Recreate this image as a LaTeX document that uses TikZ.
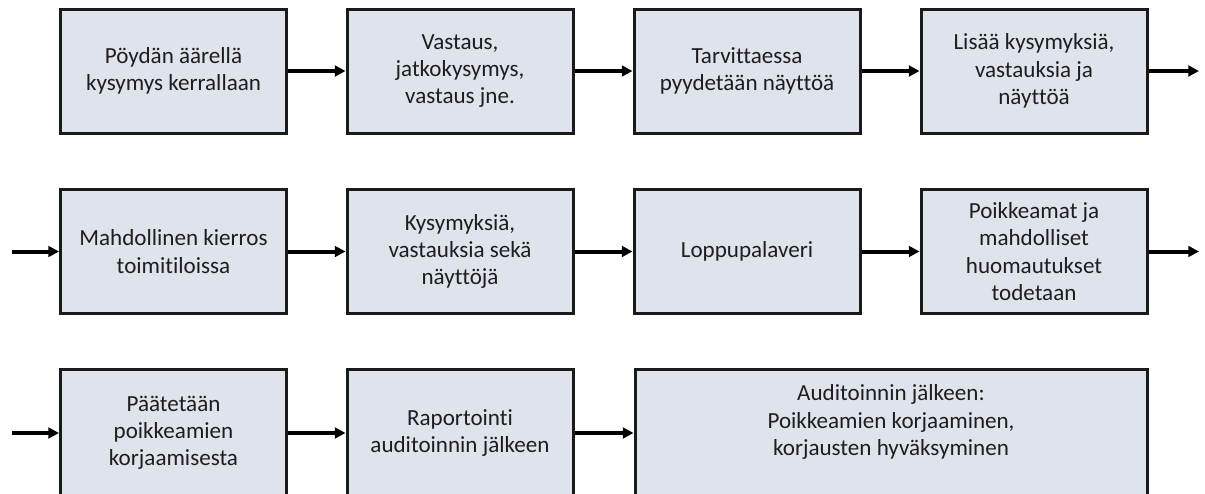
\documentclass[tikz,border=0pt]{standalone}
\usepackage{fontspec}
\setmainfont{Carlito}[Ligatures=NoCommon]
\usetikzlibrary{arrows.meta}
\definecolor{boxfill}{RGB}{223,227,236}
\definecolor{boxline}{RGB}{26,26,26}
\definecolor{inktext}{RGB}{30,30,30}
\begin{document}
\begin{tikzpicture}[x=0.75pt,y=-0.75pt,
  boxtext/.style={align=center, text=inktext, inner sep=0pt,
    font=\fontsize{17.3}{20.5}\selectfont},
  stepbox/.style={boxtext, draw=boxline, fill=boxfill, line width=2.25pt,
    minimum width=169.5pt, minimum height=93pt},
  tallbox/.style={stepbox, minimum height=96pt},
  widebox/.style={tallbox, minimum width=384pt},
  flow/.style={draw=black, line width=3pt,
    -{Triangle[length=8pt,width=8pt]}}]
  \clip (0,0) rectangle (1205,493);
  \fill[white] (0,0) rectangle (1205,493);

  % first row
  \node[stepbox] (a1) at (173.5,71) {Pöydän äärellä\\kysymys kerrallaan};
  \node[stepbox] (a2) at (460,71) {Vastaus,\\jatkokysymys,\\vastaus jne.};
  \node[stepbox] (a3) at (747,71) {Tarvittaessa\\pyydetään näyttöä};
  \node[stepbox] (a4) at (1034,71) {Lisää kysymyksiä,\\vastauksia ja\\näyttöä};
  \coordinate (a4out) at (1199,71);

  % second row
  \coordinate (b1in) at (12,251.5);
  \node[stepbox] (b1) at (173.5,251.5) {Mahdollinen kierros\\toimitiloissa};
  \node[stepbox] (b2) at (460,251.5) {Kysymyksiä,\\vastauksia sekä\\näyttöjä};
  \node[stepbox] (b3) at (747,251.5) {Loppupalaveri};
  \node[stepbox] (b4) at (1034,251.5) {Poikkeamat ja\\mahdolliset\\huomautukset\\todetaan};
  \coordinate (b4out) at (1199,251.5);

  % third row, running off the lower edge
  \coordinate (c1in) at (12,433);
  \node[tallbox] (c1) at (173.5,433) {Päätetään\\poikkeamien\\korjaamisesta};
  \node[tallbox] (c2) at (460,433) {Raportointi\\auditoinnin jälkeen};
  \node[widebox] (c3) at (891,433) {};
  \node[boxtext] (c3text) at ([yshift=8.25pt]c3.center)
    {Auditoinnin jälkeen:\\Poikkeamien korjaaminen,\\korjausten hyväksyminen};

  % connectors
  \draw[flow] (a1) -- (a2);
  \draw[flow] (a2) -- (a3);
  \draw[flow] (a3) -- (a4);
  \draw[flow] (a4) -- (a4out);
  \draw[flow] (b1in) -- (b1);
  \draw[flow] (b1) -- (b2);
  \draw[flow] (b2) -- (b3);
  \draw[flow] (b3) -- (b4);
  \draw[flow] (b4) -- (b4out);
  \draw[flow] (c1in) -- (c1);
  \draw[flow] (c1) -- (c2);
  \draw[flow] (c2) -- (c3);
\end{tikzpicture}
\end{document}
